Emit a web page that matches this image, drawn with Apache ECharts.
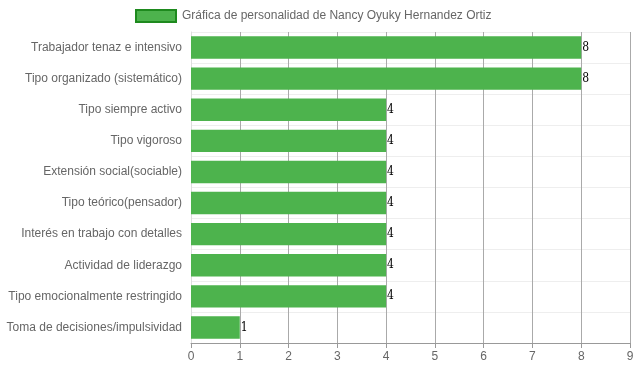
<!DOCTYPE html>
<html><head><meta charset="utf-8">
<script src="https://cdn.jsdelivr.net/npm/echarts@6/dist/echarts.min.js"></script>
<style>html,body{margin:0;padding:0;background:#fff}#c{width:637px;height:371px}</style>
</head><body><div id="c"></div>
<script>
const categories = ["Trabajador tenaz e intensivo","Tipo organizado (sistemático)","Tipo siempre activo","Tipo vigoroso","Extensión social(sociable)","Tipo teórico(pensador)","Interés en trabajo con detalles","Actividad de liderazgo","Tipo emocionalmente restringido","Toma de decisiones/impulsividad"];
const values = [8,8,4,4,4,4,4,4,4,1];
const seriesName = "Gráfica de personalidad de Nancy Oyuky Hernandez Ortiz";
const xTicks = [0,1,2,3,4,5,6,7,8,9];

const chart = echarts.init(document.getElementById('c'), null, {renderer:'canvas'});
chart.setOption({
  animation:false,
  textStyle:{fontFamily:'Liberation Sans, Arial, sans-serif'},
  legend:{top:4,left:130,itemWidth:40,itemHeight:12,itemGap:6,icon:'rect',
    textStyle:{color:'#666',fontSize:12,padding:[0,0,0,1]},
    data:[{name:seriesName,itemStyle:{color:'#4db34d',borderColor:'#1e8a1e',borderWidth:2}}]},
  grid:{left:191,right:7,top:32,bottom:28,containLabel:false},
  xAxis:{type:'value',min:xTicks[0],max:xTicks[xTicks.length-1],interval:1,
    axisLine:{show:true,lineStyle:{color:'#999'}},
    axisTick:{show:true,length:5,lineStyle:{color:'#999'}},
    axisLabel:{color:'#666',fontSize:12,margin:8},
    splitLine:{show:true,lineStyle:{color:'#aaa',width:1}}},
  yAxis:{type:'category',inverse:true,data:categories,
    axisLine:{show:true,lineStyle:{color:'#ddd'}},
    axisTick:{show:false},
    axisLabel:{color:'#666',fontSize:12,margin:9},
    splitLine:{show:true,lineStyle:{color:'#eee',width:1}}},
  series:[{name:seriesName,type:'bar',data:values,barWidth:'72%',
    itemStyle:{color:'#4db34d'},
    label:{show:true,position:'right',distance:1,color:'#000',fontSize:12,fontFamily:'DejaVu Serif Condensed, Liberation Serif, serif'}}]
});
</script></body></html>
